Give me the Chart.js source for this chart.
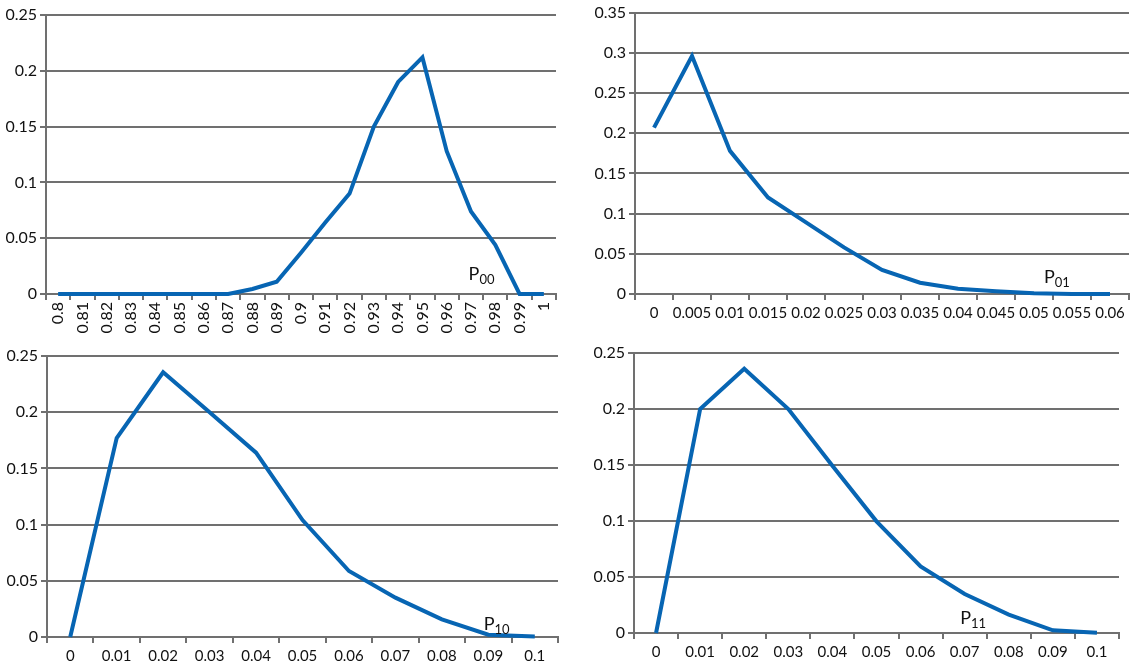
<!DOCTYPE html>
<html>
<head>
<meta charset="utf-8">
<script src="https://cdn.jsdelivr.net/npm/chart.js@4/dist/chart.umd.min.js"></script>
<style>
  html,body{margin:0;padding:0;background:#fff;}
  #wrap{position:relative;width:1133px;height:669px;overflow:hidden;}
  canvas{position:absolute;}
</style>
</head>
<body>
<div id="wrap">
  <canvas id="c00" width="566" height="340" style="left:0;top:0"></canvas>
  <canvas id="c01" width="567" height="340" style="left:566px;top:0"></canvas>
  <canvas id="c10" width="566" height="329" style="left:0;top:340px"></canvas>
  <canvas id="c11" width="567" height="329" style="left:566px;top:340px"></canvas>
</div>
<script>
// P00
const cats00 = ['0.8','0.81','0.82','0.83','0.84','0.85','0.86','0.87','0.88','0.89','0.9',
  '0.91','0.92','0.93','0.94','0.95','0.96','0.97','0.98','0.99','1'];
const vals00 = [0,0,0,0,0,0,0,0,0.0045,0.011,0.037,0.064,0.09,0.15,0.19,0.212,0.128,0.074,0.044,0,0];

// P01
const cats01 = ['0','0.005','0.01','0.015','0.02','0.025','0.03','0.035','0.04','0.045','0.05','0.055','0.06'];
const vals01 = [0.207,0.296,0.178,0.12,0.089,0.058,0.03,0.014,0.0066,0.0035,0.001,0,0];

// P10
const cats10 = ['0','0.01','0.02','0.03','0.04','0.05','0.06','0.07','0.08','0.09','0.1'];
const vals10 = [0,0.177,0.2355,0.2,0.164,0.104,0.0587,0.035,0.0157,0.002,0.0005];

// P11
const cats11 = ['0','0.01','0.02','0.03','0.04','0.05','0.06','0.07','0.08','0.09','0.1'];
const vals11 = [0,0.2,0.236,0.2,0.1494,0.0997,0.0595,0.0348,0.0164,0.0024,0.0003];

const GRID = '#707070', BLUE = '#0765B3', FONT = 'Lato, "Open Sans", sans-serif';

// little "P" + subscript tag placed in data coords
const tagPlugin = {
  id:'ptag',
  afterDraw(chart, args, o){
    if (!o || !o.sub) return;
    const {ctx, scales:{x, y}} = chart;
    const px = x.getPixelForValue(o.at[0]), py = y.getPixelForValue(o.at[1]);
    ctx.save();
    ctx.fillStyle = '#111';
    ctx.textBaseline = 'alphabetic';
    ctx.textAlign = 'left';
    ctx.font = '18px ' + FONT;
    ctx.fillText('P', px, py);
    const w = ctx.measureText('P').width;
    ctx.font = '13px ' + FONT;
    ctx.fillText(o.sub, px + w, py + 4);
    ctx.restore();
  }
};

function make(id, cats, vals, o){
  new Chart(document.getElementById(id), {
    type:'line',
    data:{ labels:cats, datasets:[{ data:vals, borderColor:BLUE, borderWidth:4,
      pointRadius:0, tension:0, fill:false, clip:false, borderJoinStyle:'miter' }]},
    options:{
      responsive:false, animation:false, devicePixelRatio:1,
      layout:{ padding:{ left:0, top:o.top, right:o.right, bottom:0 } },
      plugins:{ legend:{display:false}, tooltip:{enabled:false}, ptag:{ sub:o.sub, at:o.at } },
      scales:{
        x:{
          offset:true,
          grid:{ offset:true, drawOnChartArea:false, color:GRID, lineWidth:2, tickLength:6 },
          border:{ color:GRID, width:2 },
          ticks:{ color:'#111', font:{family:FONT, size:o.rot ? 16 : 15}, padding:o.rot ? 2 : 4,
            autoSkip:false, minRotation:o.rot||0, maxRotation:o.rot||0 },
          afterFit(s){ s.height = o.xh; }
        },
        y:{
          min:0, max:o.max,
          grid:{ color:GRID, lineWidth:2, tickLength:6 },
          border:{ color:GRID, width:2 },
          ticks:{ stepSize:o.step, color:'#111', font:{family:FONT, size:16}, padding:3,
            callback:v => String(+v.toFixed(3)) },
          afterFit(s){ s.width = o.yw; }
        }
      }
    },
    plugins:[tagPlugin]
  });
}

make('c00', cats00, vals00, {max:0.25, step:0.05, top:15, right:10, yw:46, xh:46, rot:90, sub:'00', at:[16.9, 0.0125]});
make('c01', cats01, vals01, {max:0.35, step:0.05, top:10, right:4,  yw:69, xh:46, sub:'01', at:[10.26, 0.0136]});
make('c10', cats10, vals10, {max:0.25, step:0.05, top:16, right:8,  yw:47, xh:32, sub:'10', at:[8.9, 0.0062]});
make('c11', cats11, vals11, {max:0.25, step:0.05, top:13, right:14, yw:68, xh:36, sub:'11', at:[6.9, 0.008]});
</script>
</body>
</html>
